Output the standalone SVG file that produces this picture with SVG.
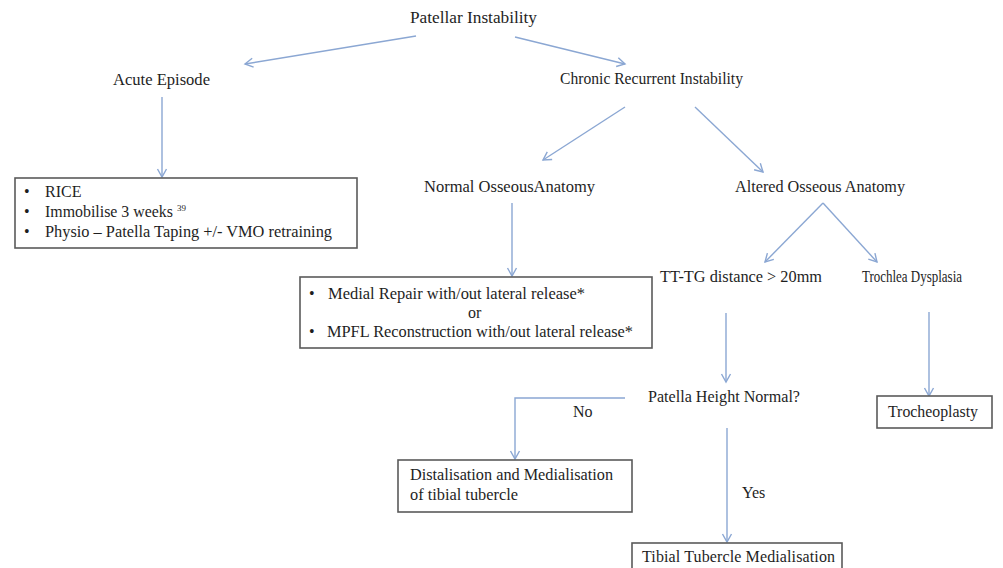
<svg xmlns="http://www.w3.org/2000/svg" width="1003" height="568" viewBox="0 0 1003 568">
<style>
text{font-family:"Liberation Serif",Tinos,"DejaVu Serif","Times New Roman",serif;font-size:16px;fill:#1e1e1e}
.box{fill:#fff;stroke:#5a5a5a;stroke-width:1.6}
.c{fill:none;stroke:#8ba7d3;stroke-width:1.4}
</style>
<defs>
<marker id="ah" markerUnits="userSpaceOnUse" markerWidth="12" markerHeight="12" viewBox="0 0 12 12" refX="10" refY="6" orient="auto">
<path d="M2,1.5 L10,6 L2,10.5" fill="none" stroke="#8ba7d3" stroke-width="1.4"/>
</marker>
</defs>
<rect width="1003" height="568" fill="#fff"/>
<g id="connectors">
<line class="c" x1="416" y1="36" x2="245" y2="64" marker-end="url(#ah)"/>
<line class="c" x1="515" y1="37" x2="625" y2="64" marker-end="url(#ah)"/>
<line class="c" x1="162" y1="97" x2="162" y2="177" marker-end="url(#ah)"/>
<line class="c" x1="625" y1="107" x2="543" y2="160" marker-end="url(#ah)"/>
<line class="c" x1="695" y1="107" x2="763" y2="172" marker-end="url(#ah)"/>
<line class="c" x1="512" y1="203" x2="512" y2="276" marker-end="url(#ah)"/>
<line class="c" x1="823" y1="203" x2="765" y2="262" marker-end="url(#ah)"/>
<line class="c" x1="823" y1="203" x2="877" y2="262" marker-end="url(#ah)"/>
<line class="c" x1="726" y1="313" x2="726" y2="382" marker-end="url(#ah)"/>
<line class="c" x1="929" y1="312" x2="929" y2="396" marker-end="url(#ah)"/>
<polyline class="c" points="625,398 515,398 515,459" marker-end="url(#ah)"/>
<line class="c" x1="727" y1="428" x2="727" y2="542" marker-end="url(#ah)"/>
</g>
<g id="patellar-instability"><text x="410" y="23" textLength="127" lengthAdjust="spacingAndGlyphs">Patellar Instability</text></g>
<g id="acute-episode"><text x="113" y="85" textLength="97" lengthAdjust="spacingAndGlyphs">Acute Episode</text></g>
<g id="chronic"><text x="560" y="84" textLength="183" lengthAdjust="spacingAndGlyphs">Chronic Recurrent Instability</text></g>
<g id="acute-treatment">
<rect class="box" x="15" y="178" width="342" height="70"/>
<text x="24" y="197">•</text><text x="45" y="197">RICE</text>
<text x="24" y="217">•</text><text x="45" y="217" textLength="128" lengthAdjust="spacingAndGlyphs">Immobilise 3 weeks</text><text x="177" y="211" style="font-size:9px">39</text>
<text x="24" y="237">•</text><text x="45" y="237" textLength="287" lengthAdjust="spacingAndGlyphs">Physio – Patella Taping +/- VMO retraining</text>
</g>
<g id="normal-anatomy"><text x="424" y="192" textLength="171" lengthAdjust="spacingAndGlyphs">Normal OsseousAnatomy</text></g>
<g id="altered-anatomy"><text x="735" y="192" textLength="170" lengthAdjust="spacingAndGlyphs">Altered Osseous Anatomy</text></g>
<g id="medial-repair">
<rect class="box" x="300" y="277" width="352" height="71"/>
<text x="309" y="299">•</text><text x="328" y="299" textLength="257" lengthAdjust="spacingAndGlyphs">Medial Repair with/out lateral release*</text>
<text x="468" y="318">or</text>
<text x="309" y="337">•</text><text x="327" y="337" textLength="306" lengthAdjust="spacingAndGlyphs">MPFL Reconstruction with/out lateral release*</text>
</g>
<g id="tt-tg"><text x="660" y="282" textLength="162" lengthAdjust="spacingAndGlyphs">TT-TG  distance &gt; 20mm</text></g>
<g id="trochlea-dysplasia"><text x="862" y="282" textLength="100" lengthAdjust="spacingAndGlyphs">Trochlea  Dysplasia</text></g>
<g id="patella-height"><text x="648" y="402" textLength="152" lengthAdjust="spacingAndGlyphs">Patella Height Normal?</text></g>
<g id="trocheoplasty">
<rect class="box" x="877" y="396" width="115" height="32"/>
<text x="888" y="417" textLength="90" lengthAdjust="spacingAndGlyphs">Trocheoplasty</text>
</g>
<g id="label-no"><text x="573" y="417">No</text></g>
<g id="label-yes"><text x="742" y="498">Yes</text></g>
<g id="distalisation">
<rect class="box" x="398" y="460" width="234" height="52"/>
<text x="410" y="480" textLength="203" lengthAdjust="spacingAndGlyphs">Distalisation and Medialisation</text>
<text x="410" y="500" textLength="108" lengthAdjust="spacingAndGlyphs">of tibial tubercle</text>
</g>
<g id="tibial-medialisation">
<rect class="box" x="632" y="543" width="210" height="40"/>
<text x="642" y="562" textLength="193" lengthAdjust="spacing">Tibial  Tubercle  Medialisation</text>
</g>
</svg>
